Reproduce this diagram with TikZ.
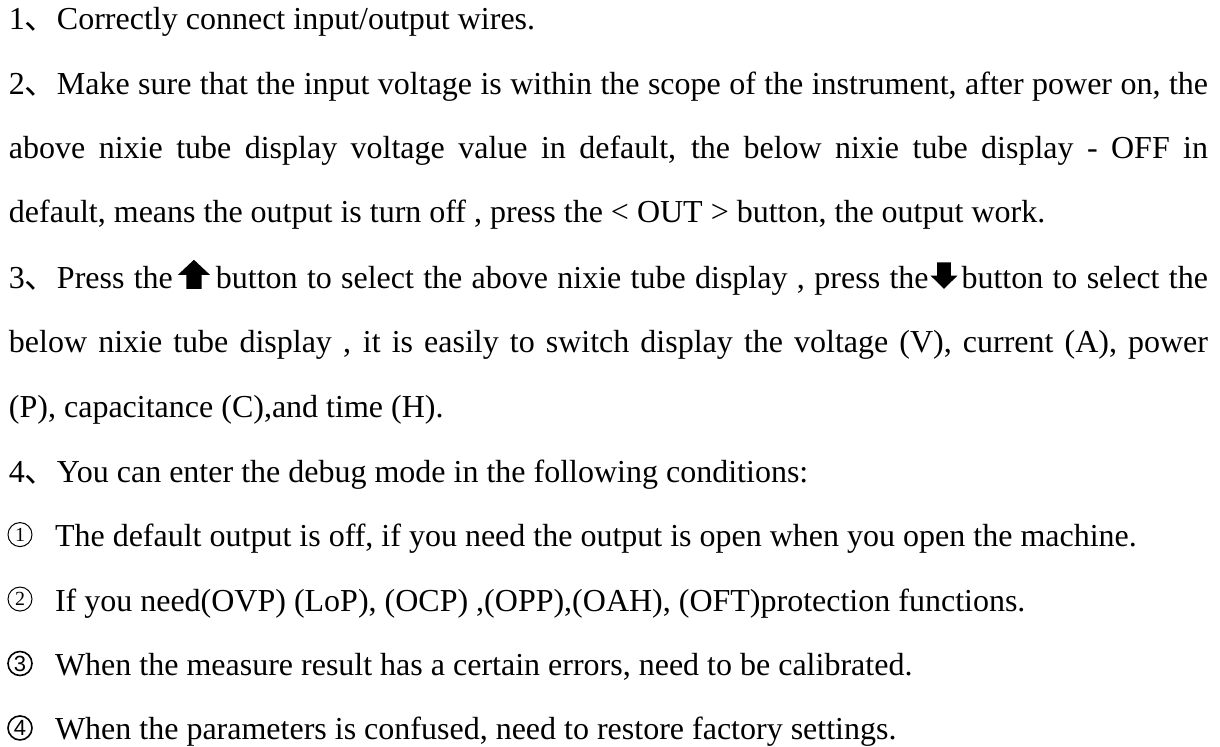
\documentclass[tikz,border=0pt]{standalone}
\usepackage{fontspec}
\setmainfont{Liberation Serif}
\newfontfamily\cjkf{Noto Sans CJK SC}
\newfontfamily\sansf{Liberation Sans}
\newcommand{\dun}{{\cjkf 、}}
\newcommand{\uparr}{\hspace{2.5pt}\tikz[x=1pt,y=1pt,baseline=0pt]\fill[black] (4.2,0)--(11.8,0)--(11.8,7)--(16,7)--(8,14.5)--(0,7)--(4.2,7)--cycle;\hspace{3pt}}
\newcommand{\dnarr}{\hspace{1pt}\tikz[x=1pt,y=1pt,baseline=0pt]\fill[black] (3.3,13.2)--(10.2,13.2)--(10.2,6.6)--(13.5,6.6)--(6.75,0)--(0,6.6)--(3.3,6.6)--cycle;\hspace{2pt}}
\newcommand{\jline}[1]{\makebox[599.5pt][s]{#1}}
\tikzset{
  txt/.style={anchor=base west, inner sep=0pt, outer sep=0pt, font=\fontsize{16pt}{20pt}\selectfont},
  cnum/.style={circle, draw, line width=0.5pt, minimum size=12pt, inner sep=0pt, font=\fontsize{10pt}{10pt}\selectfont},
  cnumb/.style={circle, draw, line width=0.8pt, minimum size=12pt, inner sep=0pt, font=\sansf\fontsize{11pt}{11pt}\selectfont},
}
\begin{document}
\begin{tikzpicture}[x=0.5pt,y=-0.5pt]
\useasboundingbox (0,0) rectangle (1220,747);
\node[txt] (l1) at (9,30) {1\dun Correctly connect input/output wires.};
\node[txt] (l2) at (9,94.45) {\jline{2\dun Make sure that the input voltage is within the scope of the instrument, after power on, the}};
\node[txt] (l3) at (9,158.9) {\jline{above nixie tube display voltage value in default, the below nixie tube display - OFF in}};
\node[txt] (l4) at (9,222.35) {default, means the output is turn off , press the < OUT > button, the output work.};
\node[txt] (l5) at (9,288.8) {\jline{3\dun Press the\uparr button to select the above nixie tube display , press the\dnarr button to select the}};
\node[txt] (l6) at (9,352.25) {\jline{below nixie tube display , it is easily to switch display the voltage (V), current (A), power}};
\node[txt] (l7) at (9,417.7) {(P), capacitance (C),and time (H).};
\node[txt] (l8) at (9,482.15) {4\dun You can enter the debug mode in the following conditions:};
\node[cnum] (c1) at (20,534.6) {1};
\node[txt] (l9) at (55,546.6) {The default output is off, if you need the output is open when you open the machine.};
\node[cnum] (c2) at (20,599.05) {2};
\node[txt] (l10) at (55,611.05) {If you need(OVP) (LoP), (OCP) ,(OPP),(OAH), (OFT)protection functions.};
\node[cnumb] (c3) at (20,663.5) {3};
\node[txt] (l11) at (55,675.5) {When the measure result has a certain errors, need to be calibrated.};
\node[cnumb] (c4) at (20,727.95) {4};
\node[txt] (l12) at (55,739.95) {When the parameters is confused, need to restore factory settings.};
\end{tikzpicture}
\end{document}
